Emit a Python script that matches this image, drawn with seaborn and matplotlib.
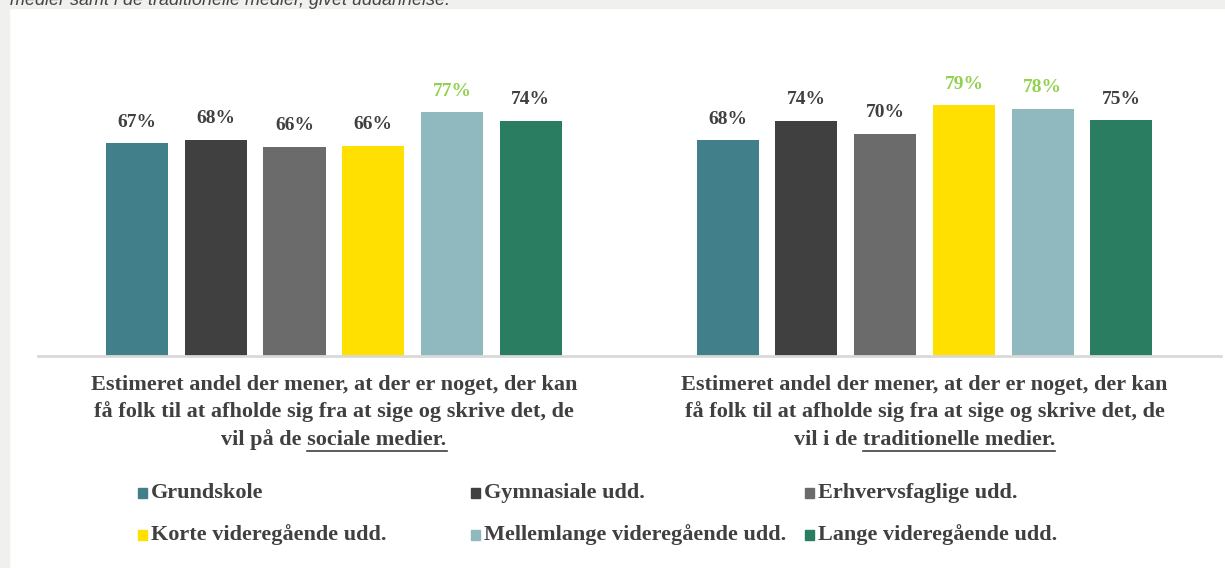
import numpy as np
import pandas as pd
import matplotlib.pyplot as plt
import seaborn as sns
from matplotlib.patches import Rectangle

# Data
groups = ["sociale", "traditionelle"]
education = ["Grundskole", "Gymnasiale udd.", "Erhvervsfaglige udd.",
             "Korte videregående udd.", "Mellemlange videregående udd.",
             "Lange videregående udd."]
social_values = [67.4, 68.4, 66.2, 66.5, 77.2, 74.4]
traditional_values = [68.2, 74.4, 70.4, 79.4, 78.3, 74.6]
highlight_social = [False, False, False, False, True, False]
highlight_traditional = [False, False, False, True, True, False]
colors = ["#41808b", "#404040", "#6b6b6b", "#ffe000", "#8fb8bf", "#2a7d60"]

label_lines = [
    ["Estimeret andel der mener, at der er noget, der kan",
     "få folk til at afholde sig fra at sige og skrive det, de",
     ("vil på de ", "sociale medier.")],
    ["Estimeret andel der mener, at der er noget, der kan",
     "få folk til at afholde sig fra at sige og skrive det, de",
     ("vil i de ", "traditionelle medier.")],
]

df = pd.DataFrame({
    "group": np.repeat(groups, len(education)),
    "edu": education * 2,
    "value": social_values + traditional_values,
})

serif = "Liberation Serif"
dark = "#404040"
green_txt = "#92d050"

fig = plt.figure(figsize=(12.25, 5.68), dpi=100)
W, H = 1225, 568

# grey page frame
fig.patches.append(Rectangle((0, 1 - 8 / H), 1, 8 / H, transform=fig.transFigure,
                             color="#f0f0ee", zorder=0))
fig.patches.append(Rectangle((0, 0), 9 / W, 1, transform=fig.transFigure,
                             color="#f0f0ee", zorder=0))
fig.text(10 / W, 1 - 5 / H, "medier samt i de traditionelle medier, givet uddannelse.",
         fontsize=13, style="italic", family="Liberation Sans", color="#444444",
         va="baseline", ha="left")

ax = fig.add_axes([38 / W, (H - 356) / H, (1221 - 38) / W, 316 / H])
sns.barplot(data=df, x="group", y="value", hue="edu", hue_order=education,
            palette=colors, saturation=1, gap=0.21, width=0.8, legend=False, ax=ax)
ax.set_xlim(-0.501, 1.502)
ax.set_ylim(0, 100)

for spine in ["top", "right", "left"]:
    ax.spines[spine].set_visible(False)
ax.spines["bottom"].set_color("#d9d9d9")
ax.spines["bottom"].set_linewidth(2)
ax.set_yticks([])
ax.set_xticks([])
ax.set_xlabel("")
ax.set_ylabel("")

# data labels
for i, cont in enumerate(ax.containers):
    vals = [social_values[i], traditional_values[i]]
    hl = [highlight_social[i], highlight_traditional[i]]
    texts = ax.bar_label(cont, labels=[f"{v:.0f}%" for v in vals], padding=9,
                         fontsize=14, fontweight="bold", family=serif)
    for t, h in zip(texts, hl):
        t.set_color(green_txt if h else dark)

# category labels under axis
fig.canvas.draw()
renderer = fig.canvas.get_renderer()
line_y = [385, 412, 440]
for gi, lines in enumerate(label_lines):
    xc = ax.transData.transform((gi, 0))[0]
    for li, line in enumerate(lines):
        y = 1 - line_y[li] / H
        if isinstance(line, tuple):
            full = line[0] + line[1]
            t = fig.text(xc / W, y, full, ha="center", va="center", fontsize=16,
                         fontweight="bold", family=serif, color=dark)
            tmp = fig.text(0, 0, line[0].rstrip() + " ", fontsize=16,
                           fontweight="bold", family=serif)
            bb = t.get_window_extent(renderer)
            pw = tmp.get_window_extent(renderer).width
            tmp.remove()
            uy = (H - line_y[li] - 11) / H
            fig.add_artist(plt.Line2D([(bb.x0 + pw) / W, bb.x1 / W], [uy, uy],
                                      transform=fig.transFigure, color=dark, lw=1.2))
        else:
            fig.text(xc / W, y, line, ha="center", va="center", fontsize=16,
                     fontweight="bold", family=serif, color=dark)

# legend
leg_x = [138, 471, 805]
leg_y = [493, 535]
for k, (name, c) in enumerate(zip(education, colors)):
    r, col = divmod(k, 3)
    x0, yc = leg_x[col], leg_y[r]
    fig.patches.append(Rectangle((x0 / W, (H - yc - 5) / H), 9 / W, 10 / H,
                                 transform=fig.transFigure, color=c))
    fig.text((x0 + 13) / W, (H - yc) / H, name, ha="left", va="center",
             fontsize=16, fontweight="bold", family=serif, color=dark)

fig.savefig("out.png", dpi=100)
